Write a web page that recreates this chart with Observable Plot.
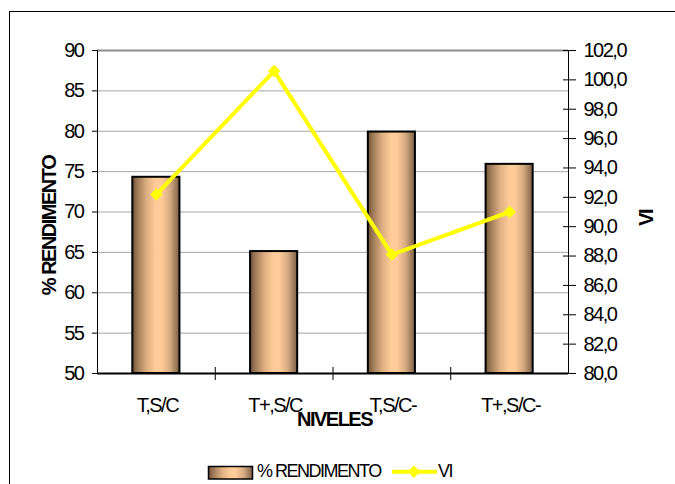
<!DOCTYPE html>
<html><head><meta charset="utf-8">
<script src="https://cdn.jsdelivr.net/npm/d3@7"></script>
<script src="https://cdn.jsdelivr.net/npm/@observablehq/plot@0.6"></script>
<style>
html,body{margin:0;padding:0;background:#fff;overflow:hidden;}
#wrap{position:relative;width:675px;height:484px;overflow:hidden;}
#frame{position:absolute;left:9px;top:11px;width:1000px;height:1000px;border:1px solid #000;box-sizing:border-box;}
#chart{position:absolute;left:0;top:0;}
#legend{position:absolute;left:0;top:440px;}
</style></head><body>
<div id="wrap"><div id="frame"></div><div id="chart"></div><div id="legend"></div></div>
<script>
// ---- data ----
const categories = ["T,S/C", "T+,S/C", "T,S/C-", "T+,S/C-"];
const rendimento = [74.3, 65.1, 79.9, 75.9];
const vi = [92.2, 100.6, 88.1, 91.0];
const leftTicks = [50, 55, 60, 65, 70, 75, 80, 85, 90];
const rightTicks = [80, 82, 84, 86, 88, 90, 92, 94, 96, 98, 100, 102];
const seriesNames = ["% RENDIMENTO", "VI"];
const axisTitles = ["NIVELES", "% RENDIMENTO", "VI"];

// ---- layout ----
const FONT = "'Liberation Sans', Arial, Helvetica, sans-serif";
const W = 675, H = 440, mL = 97, mR = 107, mT = 50, mB = 67;
const pInner = 0.6, pOuter = 0.3;
const step = (W - mL - mR) / (categories.length - pInner + 2 * pOuter);

// map VI (secondary axis) onto primary y domain
const viToY = d3.scaleLinear([rightTicks[0], rightTicks[rightTicks.length - 1]],
                             [leftTicks[0], leftTicks[leftTicks.length - 1]]);
const fmtVI = v => d3.format(".1f")(Math.round(v * 10) / 10).replace(".", ",");

const data = categories.map((c, i) => ({cat: c, rend: rendimento[i], vi: vi[i], viY: viToY(vi[i])}));
const yMin = leftTicks[0], yMax = leftTicks[leftTicks.length - 1];

const plot = Plot.plot({
  width: W, height: H,
  marginLeft: mL, marginRight: mR, marginTop: mT, marginBottom: mB,
  style: {fontFamily: FONT, fontSize: "20px", letterSpacing: "-1.5px", color: "#000", background: "transparent", overflow: "visible"},
  x: {type: "band", domain: categories, paddingInner: pInner, paddingOuter: pOuter, round: false, axis: null, label: null},
  y: {domain: [yMin, yMax], axis: null, label: null},
  marks: [
    Plot.ruleY(leftTicks.slice(1, -1), {stroke: "#a6a6a6", strokeWidth: 1}),
    Plot.ruleY([yMax], {stroke: "#8c8c8c", strokeWidth: 2}),
    Plot.barY(data, {x: "cat", y1: d => yMin, y2: "rend", fill: "url(#barGrad)", stroke: "#000", strokeWidth: 2}),
    Plot.ruleY([yMin], {stroke: "#000", strokeWidth: 2}),
    Plot.ruleX([categories[0]], {dx: -step / 2, stroke: "#000", strokeWidth: 1}),
    Plot.ruleX([categories[categories.length - 1]], {dx: step / 2, stroke: "#000", strokeWidth: 1}),
    Plot.ruleX(categories.slice(1), {dx: -step / 2, stroke: "#000", strokeWidth: 1, insetTop: H - mT - mB - 6, insetBottom: -7}),
    Plot.axisY(leftTicks, {anchor: "left", tickSize: 5, tickPadding: 9, tickFormat: d => String(d), label: null}),
    Plot.axisY(rightTicks.map(viToY), {anchor: "right", tickSize: 7, tickPadding: 8, tickFormat: d => fmtVI(viToY.invert(d)), label: null}),
    Plot.axisY(rightTicks.map(viToY), {anchor: "right", tickSize: 6, dx: -6, tickFormat: () => "", label: null}),
    Plot.axisX(categories, {anchor: "bottom", tickSize: 0, tickPadding: 24, dx: 1, label: null}),
    Plot.line(data, {x: "cat", y: "viY", stroke: "#ffff00", strokeWidth: 4}),
    Plot.dot(data, {x: "cat", y: "viY", symbol: "diamond2", r: 5.6, fill: "#ffff00", stroke: "none"}),
    Plot.text([axisTitles[0]], {text: d => d, frameAnchor: "bottom", textAnchor: "middle", lineAnchor: "middle", dy: 46.5, dx: 1.5, fontWeight: "bold", fontSize: 20}),
    Plot.text([axisTitles[1]], {text: d => d, frameAnchor: "left", textAnchor: "middle", lineAnchor: "middle", rotate: -90, dx: -48.4, dy: 13.5, fontWeight: "bold", fontSize: 20}),
    Plot.text([axisTitles[2]], {text: d => d, frameAnchor: "right", textAnchor: "middle", lineAnchor: "middle", rotate: -90, dx: 78, dy: 6, fontWeight: "bold", fontSize: 20})
  ]
});

// gradient for cylinder-like bars
const defs = d3.select(plot).insert("defs", ":first-child");
const grad = defs.append("linearGradient").attr("id", "barGrad").attr("x1", 0).attr("x2", 1).attr("y1", 0).attr("y2", 0);
[[0, "#6e5238"], [0.1, "#9c7756"], [0.3, "#dcae80"], [0.5, "#ffcc99"], [0.62, "#ffcb98"], [0.8, "#d6ab82"], [1, "#7c5f45"]]
  .forEach(([o, c]) => grad.append("stop").attr("offset", o).attr("stop-color", c));

document.getElementById("chart").appendChild(plot);

// ---- legend ----
const leg = d3.create("svg").attr("width", W).attr("height", 44)
  .style("font-family", FONT).style("font-size", "18px").style("letter-spacing", "-1.5px");
leg.append("rect").attr("x", 208.5).attr("y", 26.5).attr("width", 44).attr("height", 12.5)
  .attr("fill", "url(#barGrad)").attr("stroke", "#000").attr("stroke-width", 1.5);
leg.append("text").attr("x", 257).attr("y", 37).attr("fill", "#000").text(seriesNames[0]);
leg.append("line").attr("x1", 392).attr("x2", 437).attr("y1", 31.7).attr("y2", 31.7)
  .attr("stroke", "#ffff00").attr("stroke-width", 4);
leg.append("path").attr("d", d3.symbol(d3.symbolDiamond2, Math.PI * 5.6 * 5.6)())
  .attr("transform", "translate(414,31.7)").attr("fill", "#ffff00");
leg.append("text").attr("x", 438).attr("y", 37).attr("fill", "#000").text(seriesNames[1]);
document.getElementById("legend").appendChild(leg.node());
</script>
</body></html>
